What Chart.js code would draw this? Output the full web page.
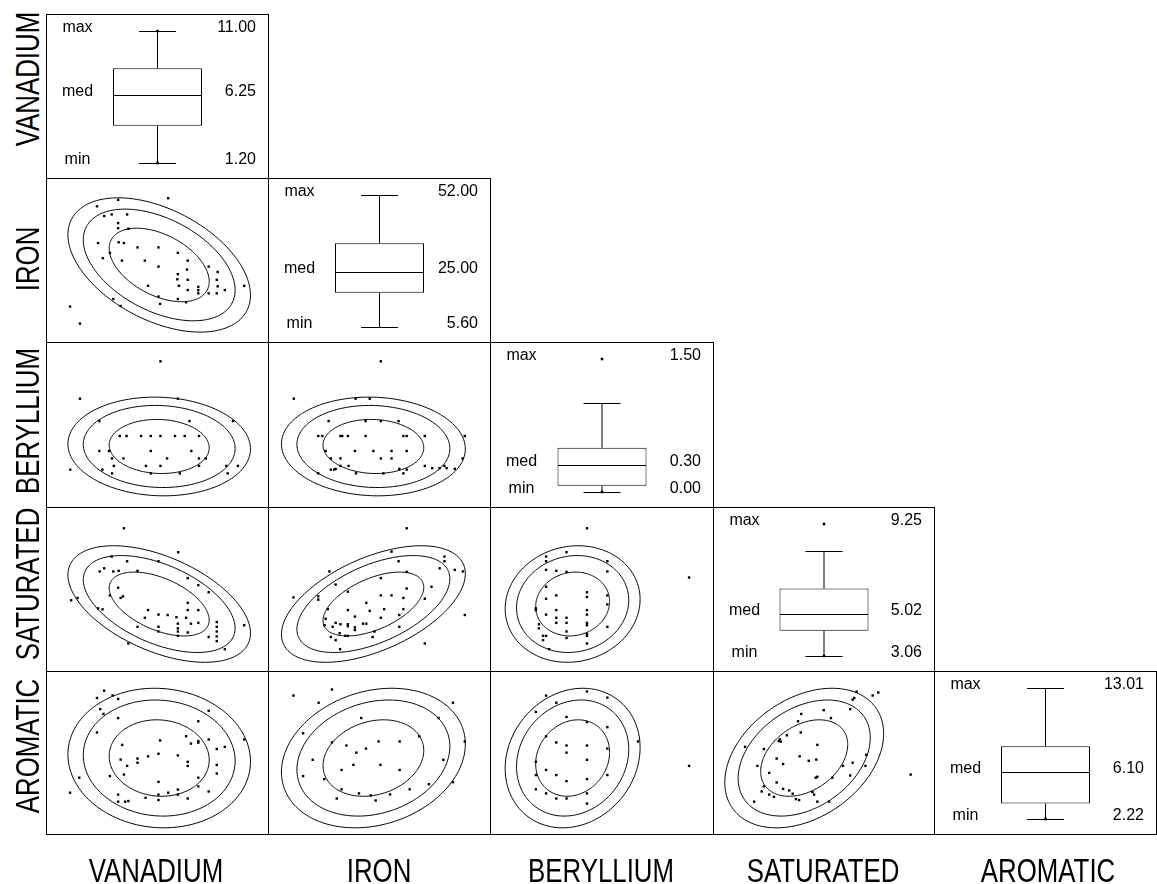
<!DOCTYPE html>
<html>
<head>
<meta charset="utf-8">
<title>Scatterplot matrix</title>
<script src="https://cdn.jsdelivr.net/npm/chart.js@4.4.1/dist/chart.umd.min.js"></script>
<style>
  html, body { margin: 0; padding: 0; background: #fff; }
  body { position: relative; width: 1157px; height: 884px; overflow: hidden; font-family: "Liberation Sans", Arial, sans-serif; }
  canvas { position: absolute; }
  .varname { position: absolute; font-size: 34px; line-height: 1; color: #000; white-space: nowrap; }
</style>
</head>
<body>
<script>
// variables of the matrix, top to bottom and left to right
const variables = ['VANADIUM', 'IRON', 'BERYLLIUM', 'SATURATED', 'AROMATIC'];

// box plot summaries for the diagonal
const boxMin = [1.20, 5.60, 0.00, 3.06, 2.22];
const boxQ1 = [3.97, 17.6, 0.07, 4.24, 3.49];
const boxMedian = [6.25, 25.00, 0.30, 5.02, 6.10];
const boxQ3 = [8.23, 35.0, 0.50, 6.22, 8.21];
const whiskerHigh = [11.00, 52.00, 1.00, 7.99, 13.01];
const boxMax = [11.00, 52.00, 1.50, 9.25, 13.01];
// single observations shown on the box plots
const boxDots = [[1.20, 11.00], [], [0.00, 1.50], [3.06, 9.25], [2.22]];

// scatter scale range of every variable
const scaleMin = [0.09, -0.1, -0.41, 2.01, -0.69];
const scaleMax = [12.08, 58.0, 1.705, 10.01, 14.62];

// normal ellipses: centre, spread, contour levels
const ellipseMean = [6.18, 27.3, 0.36, 5.27, 6.47];
const ellipseSd = [1.68, 8.2, 0.218, 0.98, 2.26];
const ellipseLevels = [1.66, 2.52, 3.03];

// scatter points, [x, y] = [column variable, row variable]
const ironVanadium = [[6.68,52.0],[3.89,51.4],[2.71,49.0],[3.11,45.4],[3.53,46.0],[4.39,46.0],[3.89,42.8],[3.89,40.9],[4.46,40.7],[2.77,35.4],[3.92,35.7],[4.21,35.4],[4.97,33.8],[6.14,33.8],[7.22,31.8],[3.43,31.8],[3.04,29.8],[4.10,28.9],[5.38,28.9],[7.77,28.9],[6.14,26.7],[8.94,26.7],[7.73,25.6],[9.44,24.7],[7.22,23.9],[7.19,22.0],[7.77,21.8],[9.39,21.8],[7.28,19.6],[5.56,19.6],[9.44,19.4],[8.36,19.2],[7.77,18.0],[8.36,18.0],[8.36,16.8],[8.94,16.8],[9.84,18.0],[9.39,16.8],[10.92,19.6],[6.14,15.6],[7.22,14.7],[6.23,12.9],[7.68,13.5],[3.62,14.7],[4.03,12.1],[1.21,11.9],[1.76,5.6]];

const berylliumVanadium = [[6.25,1.5],[1.76,1.0],[7.22,1.0],[2.84,0.7],[7.87,0.7],[10.3,0.7],[3.98,0.5],[4.36,0.5],[5.17,0.5],[5.71,0.5],[6.25,0.5],[7.06,0.5],[7.6,0.5],[8.4,0.5],[2.84,0.3],[3.38,0.3],[5.71,0.3],[7.97,0.3],[3.55,0.2],[4.19,0.2],[6.62,0.2],[8.4,0.2],[8.78,0.2],[1.22,0.05],[3.01,0.05],[3.65,0.1],[5.44,0.1],[6.25,0.1],[8.4,0.1],[9.92,0.1],[10.57,0.1],[3.55,0.0],[5.71,0.0],[7.33,0.0],[10.0,0.0]];

const berylliumIron = [[29.3,1.5],[5.8,1.0],[22.5,1.0],[26.3,1.0],[15.2,0.7],[25.2,0.7],[29.3,0.7],[34.1,0.7],[12.4,0.5],[13.5,0.5],[18.4,0.5],[18.9,0.5],[20.4,0.5],[25.2,0.5],[35.4,0.5],[36.3,0.5],[41.2,0.5],[52.0,0.5],[14.4,0.3],[22.3,0.3],[27.3,0.3],[32.2,0.3],[36.3,0.3],[15.8,0.2],[18.4,0.2],[29.3,0.2],[32.2,0.2],[51.4,0.2],[18.4,0.1],[20.6,0.1],[41.2,0.1],[43.2,0.07],[45.2,0.07],[46.5,0.1],[47.1,0.07],[49.3,0.06],[15.8,0.05],[16.7,0.05],[17.1,0.06],[34.3,0.06],[36.3,0.05],[12.4,0.0],[22.6,0.0],[30.0,0.0],[35.4,0.0]];

const saturatedVanadium = [[4.21,9.13],[7.24,7.91],[3.53,7.69],[4.39,7.45],[6.14,7.45],[3.11,7.09],[2.86,6.93],[3.62,6.93],[3.92,6.96],[4.97,6.96],[7.77,6.59],[8.36,6.23],[8.94,5.87],[3.89,6.10],[3.43,5.71],[4.16,5.66],[4.03,5.58],[1.27,5.46],[2.77,5.05],[3.02,5.00],[5.56,4.96],[7.77,5.33],[7.77,4.96],[8.36,4.96],[6.14,4.73],[6.65,4.71],[5.38,4.57],[7.14,4.60],[7.68,4.57],[7.22,4.27],[7.95,4.27],[8.36,4.31],[4.97,4.11],[6.14,4.11],[7.22,4.03],[7.22,3.87],[9.39,4.35],[9.39,4.11],[9.39,3.87],[9.39,3.62],[9.39,3.38],[7.77,3.82],[8.94,3.59],[7.22,3.65],[6.14,3.87],[10.92,4.19],[4.46,3.26],[9.84,2.97],[1.63,5.58]];

const saturatedIron = [[36.3,9.13],[32.2,7.94],[34.1,7.45],[46.5,7.69],[46.5,7.45],[45.2,7.09],[49.3,7.01],[51.5,6.93],[15.4,6.93],[36.3,6.91],[29.3,6.59],[17.1,6.26],[43.0,6.15],[36.3,6.06],[20.4,5.90],[5.7,5.61],[12.4,5.66],[12.4,5.49],[29.3,5.71],[32.2,5.71],[35.4,5.58],[41.2,5.54],[25.4,5.33],[15.0,5.01],[20.4,4.96],[26.3,4.92],[30.2,5.01],[35.4,5.01],[22.3,4.63],[34.3,4.71],[29.3,4.57],[14.4,4.52],[14.1,4.19],[17.1,4.31],[18.4,4.24],[20.4,4.24],[20.4,4.14],[22.3,4.08],[22.3,3.95],[24.5,4.27],[25.4,4.27],[27.6,3.87],[34.3,4.11],[16.3,4.11],[18.2,3.78],[19.7,3.65],[20.4,3.65],[17.1,3.43],[27.1,3.59],[18.3,2.97],[52.0,4.71],[41.2,3.26],[15.8,3.59]];

const saturatedBeryllium = [[0.5,9.13],[1.5,6.62],[0.3,7.91],[0.1,7.69],[0.1,7.45],[0.7,7.45],[0.1,7.01],[0.3,6.91],[0.2,6.96],[0.7,6.93],[0.1,6.15],[0.2,5.71],[0.5,5.87],[0.5,5.63],[0.1,5.54],[0.7,5.71],[0.7,5.25],[0.0,5.05],[0.0,4.96],[0.2,4.96],[0.5,4.96],[0.5,4.73],[0.1,4.73],[0.2,4.57],[0.2,4.31],[0.3,4.57],[0.3,4.31],[0.5,4.31],[0.5,4.19],[0.03,4.24],[0.03,4.03],[0.3,3.87],[0.1,3.65],[0.07,3.65],[0.07,3.43],[0.5,3.75],[0.5,3.65],[0.3,3.54],[0.7,4.11],[0.5,3.26],[0.13,2.97]];

const aromaticVanadium = [[3.11,13.08],[2.71,12.36],[3.58,12.61],[3.89,12.27],[2.89,11.27],[3.07,10.80],[3.89,10.39],[8.94,11.11],[8.36,10.08],[2.71,8.98],[7.68,8.61],[8.36,8.14],[8.36,7.98],[7.95,7.89],[8.94,8.29],[6.23,8.20],[4.12,7.76],[9.84,7.57],[9.39,7.36],[10.92,8.29],[6.14,6.89],[4.03,6.32],[4.39,5.70],[4.97,6.42],[4.97,6.01],[5.56,6.64],[7.22,6.73],[7.77,6.10],[7.77,5.70],[9.39,5.79],[9.39,4.95],[3.43,4.70],[4.21,4.85],[1.72,4.54],[8.36,4.54],[6.14,4.13],[8.36,3.69],[1.21,3.07],[6.14,2.88],[6.68,3.07],[7.22,3.38],[7.22,2.88],[7.77,2.50],[8.94,3.19],[3.89,2.88],[3.89,2.19],[4.28,2.19],[4.46,2.25],[5.42,2.57],[6.14,2.35]];

const aromaticIron = [[16.1,13.2],[5.7,12.6],[12.5,11.9],[24.0,10.4],[44.9,10.4],[48.8,11.9],[52.0,8.1],[8.3,8.9],[16.1,8.0],[20.0,7.7],[22.7,7.0],[25.3,7.4],[28.7,8.1],[34.4,8.1],[39.7,8.6],[10.9,6.3],[18.7,5.3],[21.9,5.8],[29.2,5.8],[34.4,5.3],[46.2,6.3],[14.0,4.4],[18.7,3.4],[23.4,3.0],[26.6,2.8],[31.8,2.9],[37.1,3.4],[42.3,3.9],[48.8,4.1],[17.4,2.5],[27.9,2.3],[8.3,4.7]];

const aromaticBeryllium = [[0.5,13.0],[0.1,12.6],[0.2,11.9],[0.7,12.4],[0.0,11.0],[0.3,10.5],[0.5,10.0],[0.7,9.5],[0.1,8.6],[0.2,8.0],[0.3,7.7],[0.3,7.0],[0.5,7.7],[0.5,6.3],[0.7,7.4],[0.0,6.1],[0.1,5.3],[0.2,4.8],[0.3,4.2],[0.5,4.4],[0.7,4.8],[0.0,3.4],[0.1,3.0],[0.2,2.5],[0.5,3.0],[1.5,5.7],[1.0,8.1],[0.0,4.8],[0.3,2.5],[0.5,2.0]];

const aromaticSaturated = [[7.23,12.99],[8.04,12.90],[7.83,12.61],[7.14,12.36],[7.08,12.20],[6.99,11.27],[6.00,11.17],[5.16,10.80],[6.27,10.39],[5.04,10.08],[5.14,8.98],[4.62,8.70],[4.36,8.30],[4.40,8.08],[4.32,8.14],[5.76,7.76],[3.06,7.57],[3.76,7.36],[4.24,6.42],[5.10,6.64],[5.44,6.20],[5.72,6.32],[3.52,5.70],[4.48,5.88],[3.96,5.01],[5.76,4.63],[5.70,4.54],[6.32,4.54],[6.72,5.70],[7.08,6.01],[7.59,6.79],[7.56,5.70],[6.99,4.76],[4.24,4.07],[3.76,3.69],[3.68,3.19],[3.96,2.88],[4.14,2.66],[4.48,3.44],[4.71,3.29],[4.84,2.97],[5.58,3.13],[5.64,2.88],[4.96,2.44],[5.08,2.35],[5.76,2.19],[6.20,2.19],[3.40,2.19],[9.25,4.85]];

// lower triangle: which points go where, with the correlation of the ellipses
const scatterCells = [
  { row: 1, col: 0, points: ironVanadium, r: -0.45 },
  { row: 2, col: 0, points: berylliumVanadium, r: -0.05 },
  { row: 2, col: 1, points: berylliumIron, r: -0.05 },
  { row: 3, col: 0, points: saturatedVanadium, r: -0.5 },
  { row: 3, col: 1, points: saturatedIron, r: 0.52 },
  { row: 3, col: 2, points: saturatedBeryllium, r: 0.08 },
  { row: 4, col: 0, points: aromaticVanadium, r: -0.05 },
  { row: 4, col: 1, points: aromaticIron, r: 0.2 },
  { row: 4, col: 2, points: aromaticBeryllium, r: 0.15 },
  { row: 4, col: 3, points: aromaticSaturated, r: 0.35 }
];

// page layout
const colEdges = [46, 268, 490, 713, 934, 1156];
const rowEdges = [14, 178, 342, 507, 671, 834];
const rowLabelY = [79, 259, 421, 584, 746];
const colLabelX = [156, 379, 601, 823, 1048];
const cellFont = '16px "Liberation Sans", Arial, sans-serif';

// frame round every cell
const framePlugin = {
  id: 'frame',
  afterDraw(chart) {
    const ctx = chart.ctx;
    ctx.save();
    ctx.strokeStyle = '#000';
    ctx.lineWidth = 1;
    ctx.strokeRect(0.5, 0.5, chart.width - 1, chart.height - 1);
    ctx.restore();
  }
};

// three concentric normal ellipses, drawn through the chart scales
const ellipsePlugin = {
  id: 'ellipses',
  beforeDatasetsDraw(chart, args, opts) {
    const { x, y } = chart.scales;
    const ctx = chart.ctx;
    const s = Math.sqrt(1 - opts.r * opts.r);
    ctx.save();
    ctx.strokeStyle = '#000';
    ctx.lineWidth = 1;
    opts.levels.forEach(k => {
      ctx.beginPath();
      for (let i = 0; i <= 200; i++) {
        const t = i / 200 * Math.PI * 2;
        const vx = opts.mx + k * opts.sx * Math.cos(t);
        const vy = opts.my + k * opts.sy * (opts.r * Math.cos(t) + s * Math.sin(t));
        const px = x.getPixelForValue(vx), py = y.getPixelForValue(vy);
        if (i === 0) ctx.moveTo(px, py); else ctx.lineTo(px, py);
      }
      ctx.closePath();
      ctx.stroke();
    });
    ctx.restore();
  }
};

// median line, whisker caps and the max / med / min texts
const boxMarks = {
  id: 'boxMarks',
  afterDatasetsDraw(chart, args, opts) {
    const ctx = chart.ctx, y = chart.scales.y;
    const cx = chart.getDatasetMeta(2).data[0].x;
    const py = v => Math.round(y.getPixelForValue(v)) + 0.5;
    ctx.save();
    ctx.strokeStyle = '#000';
    ctx.lineWidth = 1;
    ctx.beginPath();
    ctx.moveTo(cx - 44, py(opts.med)); ctx.lineTo(cx + 44, py(opts.med));
    [opts.lo, opts.hi].forEach(v => {
      ctx.moveTo(cx - 18.5, py(v)); ctx.lineTo(cx + 18.5, py(v));
    });
    ctx.stroke();
    ctx.fillStyle = '#000';
    ctx.font = cellFont;
    [['max', opts.max], ['med', opts.med], ['min', opts.min]].forEach(([t, v]) => {
      const ty = y.getPixelForValue(v) + 1;
      ctx.textAlign = 'center';
      ctx.fillText(t, 31.5, ty);
      ctx.textAlign = 'right';
      ctx.fillText(v.toFixed(2), chart.width - 13, ty);
    });
    ctx.restore();
  }
};

function makeCanvas(row, col) {
  const c = document.createElement('canvas');
  const w = colEdges[col + 1] - colEdges[col] + 1;
  const h = rowEdges[row + 1] - rowEdges[row] + 1;
  c.width = w; c.height = h;
  c.style.left = colEdges[col] + 'px';
  c.style.top = rowEdges[row] + 'px';
  c.style.width = w + 'px';
  c.style.height = h + 'px';
  document.body.appendChild(c);
  return c;
}

const common = {
  responsive: false,
  animation: false,
  events: []
};

// diagonal: box plots
variables.forEach((name, i) => {
  const bar = { grouped: false, inflateAmount: 0, borderSkipped: false };
  new Chart(makeCanvas(i, i), {
    type: 'bar',
    data: {
      labels: [name],
      datasets: [
        { ...bar, data: [[boxQ3[i], whiskerHigh[i]]], backgroundColor: '#000', barThickness: 1, order: 3 },
        { ...bar, data: [[boxMin[i], boxQ1[i]]], backgroundColor: '#000', barThickness: 1, order: 3 },
        { ...bar, data: [[boxQ1[i], boxQ3[i]]], backgroundColor: '#fff', borderColor: '#000', borderWidth: 1, barThickness: 89, order: 2 },
        { type: 'line', data: boxDots[i].map(v => ({ x: name, y: v })), showLine: false, clip: false, pointStyle: 'rect', pointRadius: 1.8, pointBorderWidth: 0, pointBackgroundColor: '#000', order: 1 }
      ]
    },
    options: {
      ...common,
      layout: { padding: { top: 17, bottom: 16, left: 0, right: 0 } },
      plugins: {
        legend: { display: false },
        tooltip: { enabled: false },
        boxMarks: { min: boxMin[i], med: boxMedian[i], max: boxMax[i], lo: boxMin[i], hi: whiskerHigh[i] }
      },
      scales: {
        x: { display: false },
        y: { type: 'linear', display: false, min: boxMin[i], max: boxMax[i] }
      }
    },
    plugins: [boxMarks, framePlugin]
  });
});

// lower triangle: scatter plots with ellipses
scatterCells.forEach(cell => {
  const xi = cell.col, yi = cell.row;
  new Chart(makeCanvas(yi, xi), {
    type: 'scatter',
    data: {
      datasets: [{
        data: cell.points.map(p => ({ x: p[0], y: p[1] })),
        pointStyle: 'rect',
        pointRadius: 1.7,
        pointBorderWidth: 0,
        pointBackgroundColor: '#000'
      }]
    },
    options: {
      ...common,
      layout: { padding: 0 },
      plugins: {
        legend: { display: false },
        tooltip: { enabled: false },
        ellipses: {
          mx: ellipseMean[xi], my: ellipseMean[yi],
          sx: ellipseSd[xi], sy: ellipseSd[yi],
          r: cell.r, levels: ellipseLevels
        }
      },
      scales: {
        x: { type: 'linear', display: false, min: scaleMin[xi], max: scaleMax[xi] },
        y: { type: 'linear', display: false, min: scaleMin[yi], max: scaleMax[yi] }
      }
    },
    plugins: [ellipsePlugin, framePlugin]
  });
});

// variable names: rotated on the left, flat along the bottom
variables.forEach((name, i) => {
  const left = document.createElement('div');
  left.className = 'varname';
  left.textContent = name;
  left.style.left = '27px';
  left.style.top = rowLabelY[i] + 'px';
  left.style.transform = 'translate(-50%, -50%) rotate(-90deg) scaleX(0.76)';
  document.body.appendChild(left);

  const bottom = document.createElement('div');
  bottom.className = 'varname';
  bottom.textContent = name;
  bottom.style.left = colLabelX[i] + 'px';
  bottom.style.top = '870px';
  bottom.style.transform = 'translate(-50%, -50%) scaleX(0.76)';
  document.body.appendChild(bottom);
});
</script>
</body>
</html>
